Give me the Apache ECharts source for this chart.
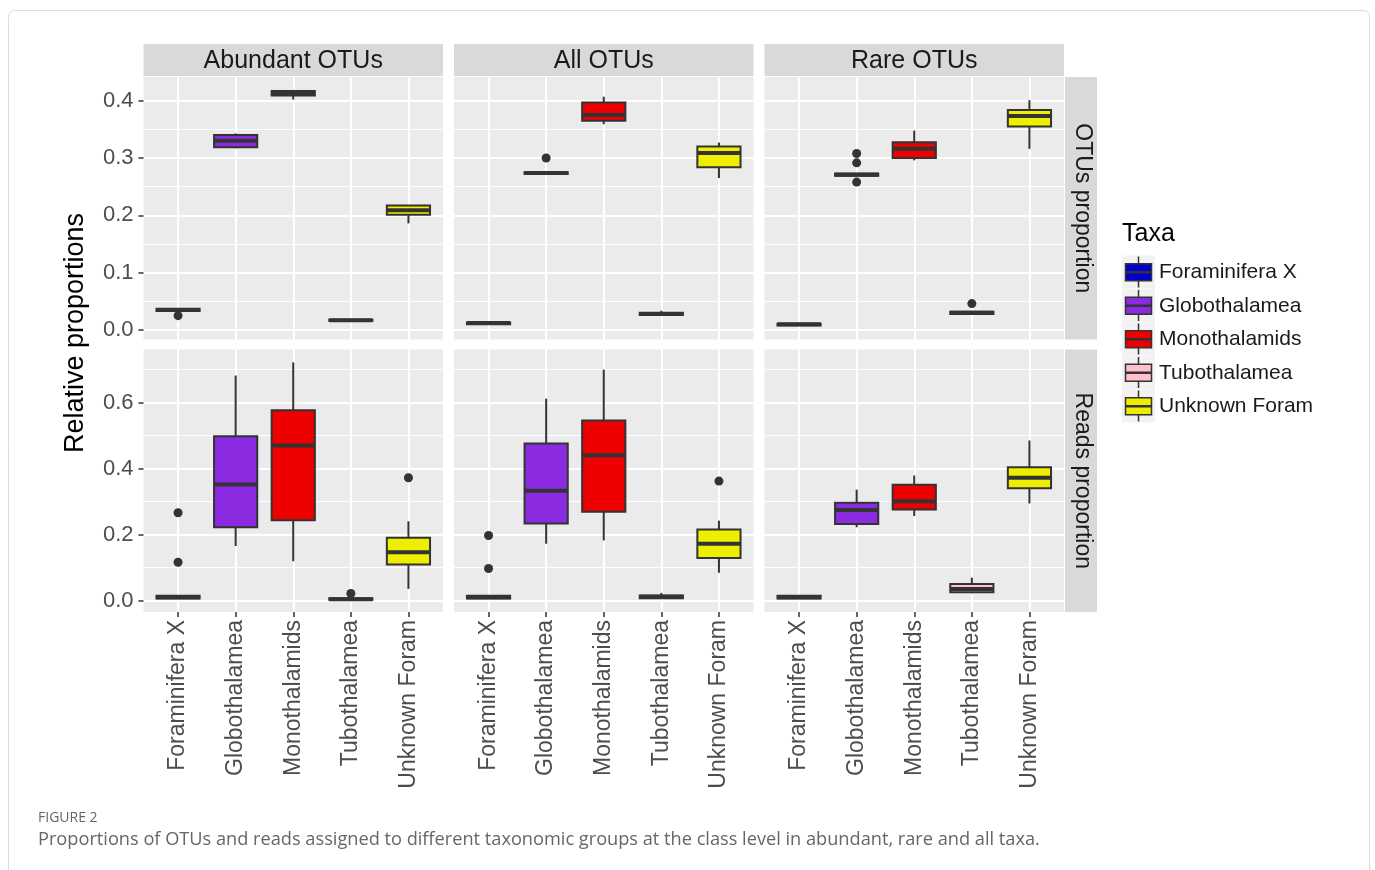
<!DOCTYPE html>
<html>
<head>
<meta charset="utf-8">
<script src="https://cdn.jsdelivr.net/npm/echarts@6/dist/echarts.min.js"></script>
<style>html,body{margin:0;padding:0;background:#fff;}#chart{width:1375px;height:870px;}</style>
</head>
<body>
<div id="chart"></div>
<script>
// ---------- data ----------
const taxa = ['Foraminifera X', 'Globothalamea', 'Monothalamids', 'Tubothalamea', 'Unknown Foram'];
const subsets = ['Abundant OTUs', 'All OTUs', 'Rare OTUs'];
const measures = ['OTUs proportion', 'Reads proportion'];
const taxaColors = ['#0000cd', '#8a2be2', '#ee0000', '#ffc0cb', '#eeee00'];

// box stats per taxon: [lower whisker, q1, median, q3, upper whisker]
const abundantOtus = [
  [0.034, 0.033, 0.035, 0.037, 0.037],
  [0.317, 0.319, 0.330, 0.340, 0.343],
  [0.402, 0.409, 0.413, 0.417, 0.419],
  [0.016, 0.016, 0.017, 0.018, 0.018],
  [0.186, 0.201, 0.209, 0.217, 0.217]
];
const abundantOtusOut = [[0, 0.025]];
const allOtus = [
  [0.011, 0.010, 0.012, 0.013, 0.013],
  [0.273, 0.272, 0.274, 0.275, 0.275],
  [0.359, 0.365, 0.375, 0.397, 0.407],
  [0.027, 0.026, 0.028, 0.030, 0.0336],
  [0.265, 0.284, 0.309, 0.320, 0.327]
];
const allOtusOut = [[1, 0.300]];
const rareOtus = [
  [0.009, 0.008, 0.010, 0.011, 0.011],
  [0.270, 0.269, 0.271, 0.273, 0.273],
  [0.296, 0.300, 0.316, 0.3275, 0.348],
  [0.029, 0.028, 0.030, 0.032, 0.032],
  [0.316, 0.355, 0.3735, 0.384, 0.401]
];
const rareOtusOut = [[1, 0.308], [1, 0.2916], [1, 0.258], [3, 0.046]];

const abundantReads = [
  [0.005, 0.006, 0.010, 0.014, 0.015],
  [0.165, 0.222, 0.352, 0.498, 0.682],
  [0.119, 0.243, 0.470, 0.577, 0.722],
  [0.001, 0.002, 0.004, 0.007, 0.008],
  [0.035, 0.109, 0.146, 0.190, 0.240]
];
const abundantReadsOut = [[0, 0.266], [0, 0.116], [3, 0.021], [4, 0.372]];
const allReads = [
  [0.005, 0.006, 0.010, 0.014, 0.014],
  [0.172, 0.233, 0.333, 0.476, 0.612],
  [0.182, 0.269, 0.440, 0.546, 0.700],
  [0.005, 0.007, 0.011, 0.015, 0.023],
  [0.084, 0.129, 0.172, 0.215, 0.242]
];
const allReadsOut = [[0, 0.197], [0, 0.097], [4, 0.362]];
const rareReads = [
  [0.006, 0.006, 0.010, 0.014, 0.014],
  [0.222, 0.232, 0.274, 0.296, 0.336],
  [0.256, 0.276, 0.301, 0.351, 0.379],
  [0.022, 0.025, 0.035, 0.050, 0.069],
  [0.294, 0.340, 0.372, 0.404, 0.485]
];
const rareReadsOut = [];

const otusTicks = [0, 0.1, 0.2, 0.3, 0.4];
const otusMinor = [0.05, 0.15, 0.25, 0.35];
const readsTicks = [0, 0.2, 0.4, 0.6];
const readsMinor = [0.1, 0.3, 0.5, 0.7];
const otusRange = [-0.0166, 0.4414];
const readsRange = [-0.035, 0.761];

const panelStats = [[abundantOtus, allOtus, rareOtus], [abundantReads, allReads, rareReads]];
const panelOutliers = [[abundantOtusOut, allOtusOut, rareOtusOut], [abundantReadsOut, allReadsOut, rareReadsOut]];

// ---------- layout ----------
const FONT = '"Liberation Sans", Arial, Helvetica, sans-serif';
const colLeft = [143.5, 454, 764.5];
const colWidth = 299.5;
const rowTop = [77, 349.5];
const rowHeight = 262.5;
const catIdx = [0, 1, 2, 3, 4];

function renderBox(params, api) {
  const x = api.value(0);
  const lo = api.value(1), q1 = api.value(2), med = api.value(3), q3 = api.value(4), hi = api.value(5);
  const hw = 0.375;
  const tl = api.coord([x - hw, q3]);
  const br = api.coord([x + hw, q1]);
  const pLo = api.coord([x, lo]);
  const pHi = api.coord([x, hi]);
  const pMed = api.coord([x, med]);
  const stroke = '#333333';
  const children = [];
  if (pHi[1] < tl[1]) children.push({type: 'line', shape: {x1: pHi[0], y1: pHi[1], x2: pHi[0], y2: tl[1]}, style: {stroke, lineWidth: 2}});
  if (pLo[1] > br[1]) children.push({type: 'line', shape: {x1: pLo[0], y1: br[1], x2: pLo[0], y2: pLo[1]}, style: {stroke, lineWidth: 2}});
  children.push({type: 'rect', shape: {x: tl[0], y: tl[1], width: br[0] - tl[0], height: br[1] - tl[1]}, style: {fill: taxaColors[x], stroke, lineWidth: 2}});
  children.push({type: 'line', shape: {x1: tl[0], y1: pMed[1], x2: br[0], y2: pMed[1]}, style: {stroke, lineWidth: 4}});
  return {type: 'group', children};
}

const option = {
  animation: false,
  backgroundColor: '#ffffff',
  grid: [], xAxis: [], yAxis: [], series: [], graphic: []
};

for (let r = 0; r < 2; r++) {
  for (let c = 0; c < 3; c++) {
    const idx = r * 3 + c;
    const range = r === 0 ? otusRange : readsRange;
    const majors = r === 0 ? otusTicks : readsTicks;
    const minors = r === 0 ? otusMinor : readsMinor;
    option.grid.push({left: colLeft[c], top: rowTop[r], width: colWidth, height: rowHeight,
      show: true, backgroundColor: '#ebebeb', borderWidth: 0});
    option.xAxis.push({
      gridIndex: idx, type: 'value', min: -0.6, max: 4.6, position: 'bottom',
      axisLine: {show: false, onZero: false},
      axisTick: {show: r === 1, customValues: catIdx, length: 5, lineStyle: {color: '#333333', width: 1.5}},
      axisLabel: {show: r === 1, customValues: catIdx, formatter: v => taxa[Math.round(v)], rotate: 90,
        margin: 8, fontSize: 23, color: '#4d4d4d', fontFamily: FONT},
      splitLine: {show: true, lineStyle: {color: '#ffffff', width: 2}}
    });
    option.yAxis.push({
      gridIndex: idx, type: 'value', min: range[0], max: range[1], position: 'left',
      axisLine: {show: false, onZero: false},
      axisTick: {show: c === 0, customValues: majors, length: 5, lineStyle: {color: '#333333', width: 1.5}},
      axisLabel: {show: c === 0, customValues: majors, formatter: v => v.toFixed(1), margin: 10,
        fontSize: 22, color: '#4d4d4d', fontFamily: FONT},
      splitLine: {show: true, lineStyle: {color: '#ffffff', width: 2}}
    });
    option.yAxis.push({
      gridIndex: idx, type: 'value', min: range[0], max: range[1], position: 'right',
      axisLine: {show: false, onZero: false},
      axisTick: {show: false, customValues: minors},
      axisLabel: {show: false, customValues: minors},
      splitLine: {show: true, lineStyle: {color: '#ffffff', width: 1}}
    });
    option.series.push({
      type: 'custom', name: subsets[c] + ' - ' + measures[r],
      xAxisIndex: idx, yAxisIndex: idx * 2,
      renderItem: renderBox,
      encode: {x: 0, y: [1, 2, 3, 4, 5]},
      data: panelStats[r][c].map((s, i) => [i].concat(s)),
      z: 2
    });
    option.series.push({
      type: 'scatter', xAxisIndex: idx, yAxisIndex: idx * 2,
      data: panelOutliers[r][c], symbolSize: 9,
      itemStyle: {color: '#333333', opacity: 1}, z: 3
    });
  }
}

// strips
for (let c = 0; c < 3; c++) {
  option.graphic.push({type: 'rect', shape: {x: colLeft[c], y: 44, width: colWidth, height: 32}, style: {fill: '#d9d9d9'}, silent: true});
  option.graphic.push({type: 'text', x: colLeft[c] + colWidth / 2, y: 61,
    style: {text: subsets[c], fill: '#1a1a1a', font: '25px ' + FONT, textAlign: 'center', textVerticalAlign: 'middle'}});
}
for (let r = 0; r < 2; r++) {
  option.graphic.push({type: 'rect', shape: {x: 1065, y: rowTop[r], width: 32, height: rowHeight}, style: {fill: '#d9d9d9'}, silent: true});
  option.graphic.push({type: 'text', x: 1082, y: rowTop[r] + rowHeight / 2, rotation: -Math.PI / 2,
    style: {text: measures[r], fill: '#1a1a1a', font: '23px ' + FONT, textAlign: 'center', textVerticalAlign: 'middle'}});
}
// y axis title
option.graphic.push({type: 'text', x: 76, y: 333, rotation: Math.PI / 2,
  style: {text: 'Relative proportions', fill: '#000000', font: '27px ' + FONT, textAlign: 'center', textVerticalAlign: 'middle'}});

// legend
option.graphic.push({type: 'text', x: 1122, y: 234,
  style: {text: 'Taxa', fill: '#000000', font: '25px ' + FONT, textAlign: 'left', textVerticalAlign: 'middle'}});
const keyTop = 255.5, keyH = 33.5;
taxa.forEach((t, i) => {
  const y0 = keyTop + i * keyH;
  const cy = y0 + keyH / 2;
  option.graphic.push({type: 'rect', shape: {x: 1122, y: y0, width: 33, height: keyH - 0.5}, style: {fill: '#f2f2f2'}, silent: true});
  option.graphic.push({type: 'line', shape: {x1: 1138.5, y1: y0 + 1, x2: 1138.5, y2: y0 + keyH - 1.5}, style: {stroke: '#333333', lineWidth: 1.5}});
  option.graphic.push({type: 'rect', shape: {x: 1125.5, y: cy - 8.5, width: 26, height: 17}, style: {fill: taxaColors[i], stroke: '#333333', lineWidth: 1.5}});
  option.graphic.push({type: 'line', shape: {x1: 1125.5, y1: cy, x2: 1151.5, y2: cy}, style: {stroke: '#333333', lineWidth: 2.5}});
  option.graphic.push({type: 'text', x: 1159, y: cy,
    style: {text: t, fill: '#1a1a1a', font: '21px ' + FONT, textAlign: 'left', textVerticalAlign: 'middle'}});
});

// caption & frame
option.graphic.push({type: 'rect', shape: {x: 8.5, y: 10.5, width: 1361, height: 880, r: 6}, style: {fill: 'none', stroke: '#dcdcdc', lineWidth: 1}, silent: true, z: -1});
option.graphic.push({type: 'text', x: 38, y: 818,
  style: {text: 'FIGURE 2', fill: '#666666', font: '14px "Open Sans", sans-serif', textAlign: 'left', textVerticalAlign: 'middle'}});
option.graphic.push({type: 'text', x: 38, y: 840,
  style: {text: 'Proportions of OTUs and reads assigned to different taxonomic groups at the class level in abundant, rare and all taxa.', fill: '#666666', font: '18.2px "Open Sans", sans-serif', textAlign: 'left', textVerticalAlign: 'middle'}});

const chart = echarts.init(document.getElementById('chart'), null, {renderer: 'canvas'});
chart.setOption(option);
</script>
</body>
</html>
